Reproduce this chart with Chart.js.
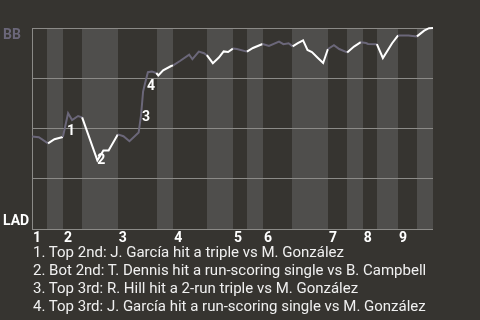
<!DOCTYPE html>
<html>
<head>
<meta charset="utf-8">
<script src="https://cdn.jsdelivr.net/npm/chart.js@4/dist/chart.umd.min.js"></script>
<style>
  html, body { margin: 0; padding: 0; background: #363430; }
  #wrap { position: relative; width: 480px; height: 320px; overflow: hidden; }
  canvas { position: absolute; left: 0; top: 0; }
  #events {
    position: absolute; left: 33px; top: 243px; margin: 0; padding: 0;
    list-style: none; font: 15px Roboto, "Noto Sans", sans-serif;
    line-height: 18px; color: #f0f0f0; white-space: nowrap;
  }
</style>
</head>
<body>
<div id="wrap">
  <canvas id="wp" width="480" height="320"></canvas>
  <ul id="events"></ul>
</div>
<script>
// Game progress (0–100 %) for each play, and BB win probability (%) after it
const progress = [0, 1.7, 4.0, 5.6, 7.7, 9.0, 10.0, 11.5, 12.5, 16.3, 17.8, 19.1, 21.4, 22.8, 24.3, 26.6,
  27.2, 27.7, 28.2, 28.9, 29.9, 31.0, 31.5, 32.7, 34.7, 35.2, 36.9, 39.2, 40.0, 41.6, 42.9, 43.6,
  45.1, 46.6, 47.8, 48.9, 50.1, 51.1, 53.6, 55.1, 57.5, 59.1, 61.6, 62.7, 64.0, 65.0, 66.3, 67.6,
  68.7, 69.8, 71.3, 72.6, 73.8, 75.3, 76.6, 78.6, 80.3, 82.0, 83.3, 83.8, 86.0, 87.5, 89.8, 91.3,
  92.5, 93.9, 96.0, 97.8, 99.0, 100];
const bbWinPct = [45.8, 45.4, 42.3, 44.4, 45.5, 57.4, 54.0, 56.0, 55.3, 33.8, 38.8, 38.8, 46.8, 45.9, 43.4, 47.8,
  56.5, 68.2, 72.4, 77.9, 78.2, 77.5, 76.3, 78.8, 81.0, 81.3, 83.5, 86.7, 84.4, 88.2, 87.4, 86.4,
  82.4, 85.2, 88.3, 88.0, 89.7, 89.5, 88.2, 90.0, 92.0, 91.0, 93.2, 91.9, 92.4, 90.8, 92.4, 93.8,
  89.0, 88.0, 85.0, 82.5, 89.5, 91.4, 89.5, 87.8, 90.7, 92.9, 92.5, 92.0, 91.9, 85.0, 92.4, 96.3,
  96.3, 96.2, 95.8, 98.7, 99.9, 100];

// Where each half-inning begins (progress %); top halves are the even entries
const halfInningStarts = [0, 3.7, 7.7, 12.5, 21.4, 31.2, 35.2, 43.6, 50.1, 53.6, 57.6, 64.8, 73.8, 78.6, 82.5, 86.0, 91.3, 96.0];
const gameEnd = 100;
const inningLabels = ['1', '2', '3', '4', '5', '6', '7', '8', '9'];

// Win-probability gridlines
const yTicks = [0, 25, 50, 75, 100];

// Key plays: which play they follow, and their description
const keyPlayIndex = [5, 9, 16, 18];
const keyPlayText = [
  'Top 2nd: J. García hit a triple vs M. González',
  'Bot 2nd: T. Dennis hit a run-scoring single vs B. Campbell',
  'Top 3rd: R. Hill hit a 2-run triple vs M. González',
  'Top 3rd: J. García hit a run-scoring single vs M. González'
];

const teamTop = 'BB';
const teamBottom = 'LAD';

const COLORS = {
  dark: '#363430',
  light: '#4f4e4c',
  grid: '#8b8a87',
  away: '#6b6779',
  home: '#ffffff',
  text: '#ffffff'
};

function halfIndexAt(x) {
  let idx = 0;
  for (let i = 0; i < halfInningStarts.length; i++) {
    if (x >= halfInningStarts[i]) idx = i;
  }
  return idx;
}

const points = progress.map((x, i) => ({ x, y: bbWinPct[i] }));

const backdrop = {
  id: 'backdrop',
  beforeDatasetsDraw(chart) {
    const { ctx, chartArea, scales } = chart;
    const xs = scales.x, ys = scales.y;
    ctx.save();
    // alternating half-inning bands
    halfInningStarts.forEach((start, i) => {
      const end = i + 1 < halfInningStarts.length ? halfInningStarts[i + 1] : gameEnd;
      const x0 = Math.round(xs.getPixelForValue(start));
      const x1 = Math.round(xs.getPixelForValue(end));
      ctx.fillStyle = i % 2 === 0 ? COLORS.dark : COLORS.light;
      ctx.fillRect(x0, chartArea.top, x1 - x0, chartArea.bottom - chartArea.top + 1);
    });
    // horizontal gridlines
    ctx.strokeStyle = COLORS.grid;
    ctx.lineWidth = 1;
    const xl = Math.round(xs.getPixelForValue(0));
    const xr = Math.round(xs.getPixelForValue(gameEnd));
    yTicks.forEach(t => {
      let y = Math.round(ys.getPixelForValue(t));
      if (t === 0) y += 1;
      ctx.beginPath();
      ctx.moveTo(xl, y + 0.5);
      ctx.lineTo(xr, y + 0.5);
      ctx.stroke();
    });
    // left axis line
    ctx.beginPath();
    ctx.moveTo(xl + 0.5, Math.round(ys.getPixelForValue(100)));
    ctx.lineTo(xl + 0.5, Math.round(ys.getPixelForValue(0)) + 2);
    ctx.stroke();
    ctx.restore();
  },
  afterDatasetsDraw(chart, args, opts) {
    const { ctx, scales } = chart;
    const xs = scales.x, ys = scales.y;
    const meta = chart.getDatasetMeta(0);
    ctx.save();
    ctx.font = 'bold 14px Roboto, "DejaVu Sans", sans-serif';
    ctx.textBaseline = 'alphabetic';
    // team labels
    ctx.fillStyle = COLORS.away;
    ctx.textAlign = 'left';
    ctx.fillText(teamTop, 3, ys.getPixelForValue(100) + 11);
    ctx.fillStyle = COLORS.text;
    ctx.fillText(teamBottom, 3, ys.getPixelForValue(0) - 3);
    // inning numbers
    inningLabels.forEach((lab, i) => {
      const x = xs.getPixelForValue(halfInningStarts[i * 2]);
      ctx.fillText(lab, x + 1, ys.getPixelForValue(0) + 14);
    });
    // key play markers
    ctx.textAlign = 'center';
    ctx.textBaseline = 'middle';
    keyPlayIndex.forEach((pi, k) => {
      const el = meta.data[pi];
      const off = opts.offsets[k];
      ctx.fillText(String(k + 1), el.x + off[0], el.y + off[1]);
    });
    ctx.restore();
  }
};

new Chart(document.getElementById('wp'), {
  type: 'line',
  data: {
    datasets: [{
      data: points,
      borderWidth: 2,
      pointRadius: 0,
      tension: 0,
      clip: 3,
      borderColor: COLORS.home,
      segment: {
        borderColor: c => {
          const mid = (c.p0.parsed.x + c.p1.parsed.x) / 2;
          return halfIndexAt(mid) % 2 === 0 ? COLORS.away : COLORS.home;
        }
      }
    }]
  },
  options: {
    responsive: false,
    animation: false,
    devicePixelRatio: 1,
    layout: { padding: { left: 32, top: 28, right: 47, bottom: 92 } },
    scales: {
      x: { type: 'linear', min: 0, max: gameEnd, display: false },
      y: { type: 'linear', min: 0, max: 100, display: false }
    },
    plugins: {
      legend: { display: false },
      tooltip: { enabled: false },
      backdrop: { offsets: [[3, 18], [4, 0], [5, 2], [6, 3]] }
    }
  },
  plugins: [backdrop]
});

const list = document.getElementById('events');
keyPlayText.forEach((t, i) => {
  const li = document.createElement('li');
  li.textContent = (i + 1) + '. ' + t;
  list.appendChild(li);
});
</script>
</body>
</html>
